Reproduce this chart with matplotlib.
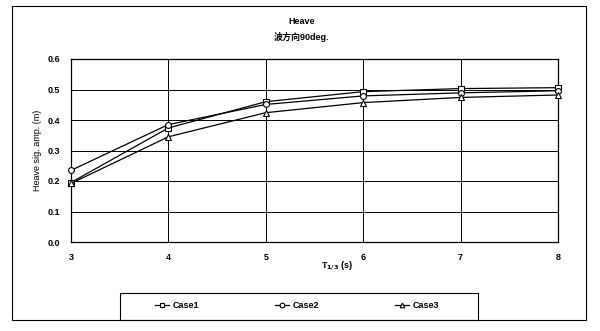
import matplotlib
matplotlib.use("Agg")
import matplotlib.pyplot as plt
from matplotlib.patches import Rectangle

plt.rcParams['font.family'] = ['Liberation Sans', 'Noto Sans CJK JP', 'DejaVu Sans']
plt.rcParams['font.weight'] = 'bold'

periods = [3, 4, 5, 6, 7, 8]
case1 = [0.195, 0.374, 0.460, 0.493, 0.503, 0.506]
case2 = [0.235, 0.385, 0.451, 0.479, 0.489, 0.496]
case3 = [0.192, 0.345, 0.424, 0.457, 0.474, 0.482]
series_names = ['Case1', 'Case2', 'Case3']
yticks = [0.0, 0.1, 0.2, 0.3, 0.4, 0.5, 0.6]
xticks = [3, 4, 5, 6, 7, 8]

W, H = 600, 331
FS = 6.5
fig = plt.figure(figsize=(6, 3.31), dpi=100)
ax = fig.add_axes([71/W, 1-242/H, (558-71)/W, (242-59)/H])

markers = ['s', 'o', '^']
lines = []
for vals, name, m in zip([case1, case2, case3], series_names, markers):
    ln, = ax.plot(periods, vals, color='black', lw=0.9, marker=m, ms=4.2,
                  mfc='white', mec='black', mew=0.8, label=name, clip_on=False, zorder=3)
    lines.append(ln)

ax.set_xlim(3, 8)
ax.set_ylim(0, 0.6)
ax.set_xticks(xticks)
ax.set_yticks(yticks)
ax.set_yticklabels([f'{v:.1f}' for v in yticks])
ax.tick_params(length=0, labelsize=FS, pad=8)
ax.grid(True, color='black', lw=0.7)
for s in ax.spines.values():
    s.set_color('black')
    s.set_linewidth(0.9)

ax.set_ylabel('Heave sig. amp. (m)', fontsize=FS, labelpad=4, fontweight='normal')
fig.text(337/W, 1-266/H, r'T$_{1/3}$ (s)', ha='center', va='center', fontsize=FS)

fig.text(302/W, 1-22/H, 'Heave', ha='center', va='center', fontsize=FS)
fig.text(302/W, 1-37/H, '波方向90deg.', ha='center', va='center', fontsize=FS)

fig.patches.append(Rectangle((12/W, 1-320/H), (586-12)/W, (320-6)/H,
                             transform=fig.transFigure, fill=False,
                             edgecolor='black', lw=0.8))
fig.patches.append(Rectangle((120/W, 1-320/H), (478-120)/W, (320-293)/H,
                             transform=fig.transFigure, fill=False,
                             edgecolor='black', lw=0.8))

for ln, x0 in zip(lines, [155, 275, 395]):
    lg = fig.legend([ln], [ln.get_label()], loc='center left',
                    bbox_to_anchor=(x0/W, 1-306/H), borderaxespad=0, borderpad=0,
                    frameon=False, fontsize=FS, handlelength=1.6, handletextpad=0.3,
                    markerscale=0.8)

fig.savefig('out.png', dpi=100)
